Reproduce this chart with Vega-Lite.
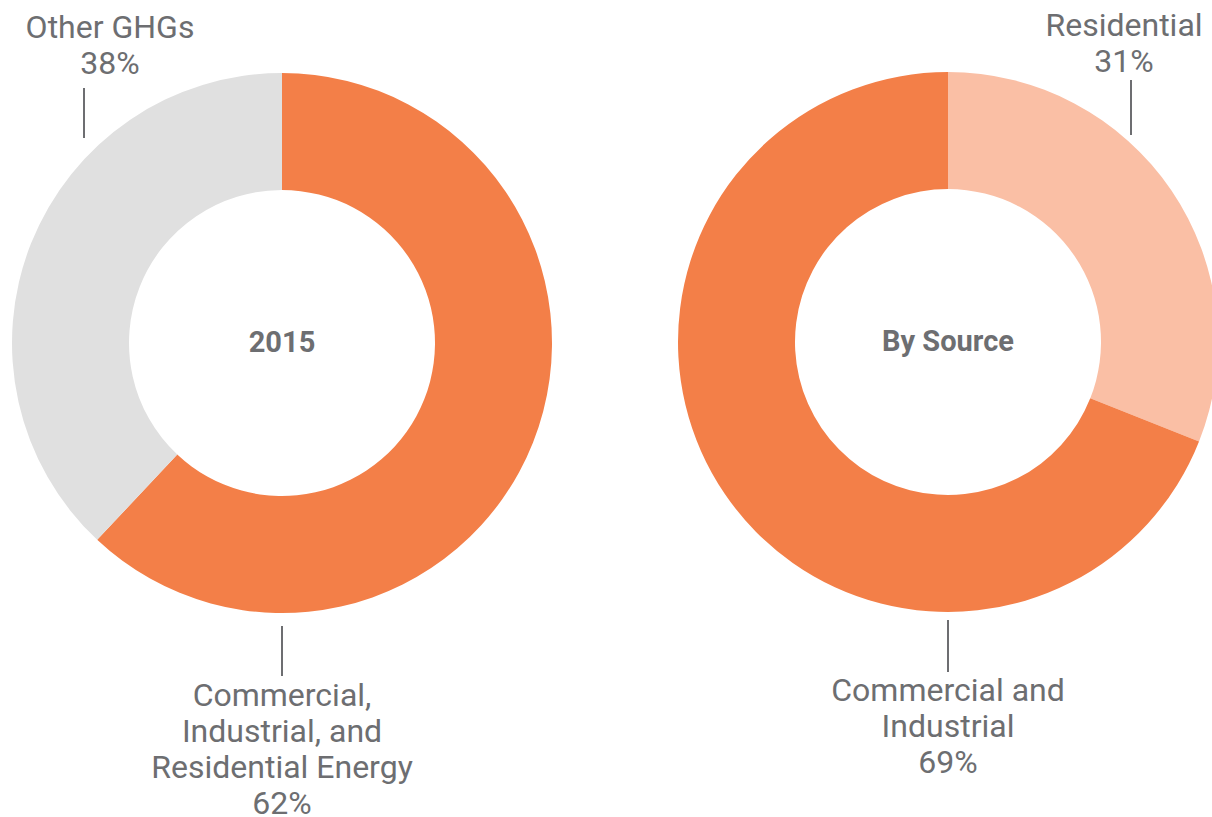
{
  "$schema": "https://vega.github.io/schema/vega-lite/v6.json",
  "padding": 0,
  "background": "white",
  "spacing": 114,
  "config": {"view": {"stroke": null}, "text": {"font": "Roboto"}, "concat": {"spacing": 114}},
  "resolve": {"scale": {"color": "independent"}},
  "datasets": {
    "y2015": [
      {"category": "Commercial, Industrial, and Residential Energy", "share": 62, "rank": 1, "label": "Commercial,\nIndustrial, and\nResidential Energy\n62%"},
      {"category": "Other GHGs", "share": 38, "rank": 2, "label": "Other GHGs\n38%"}
    ],
    "bySource": [
      {"category": "Residential", "share": 31, "rank": 1, "label": "Residential\n31%"},
      {"category": "Commercial and Industrial", "share": 69, "rank": 2, "label": "Commercial and\nIndustrial\n69%"}
    ]
  },
  "hconcat": [
    {
      "width": 564,
      "height": 686,
      "data": {"name": "y2015"},
      "layer": [
        {
          "mark": {"type": "arc", "outerRadius": 270, "innerRadius": 153},
          "encoding": {
            "theta": {"field": "share", "type": "quantitative", "stack": true},
            "order": {"field": "rank", "type": "quantitative"},
            "color": {"field": "category", "type": "nominal", "legend": null,
              "scale": {"domain": ["Commercial, Industrial, and Residential Energy", "Other GHGs"], "range": ["#F37F48", "#E0E0E0"]}}
          }
        },
        {
          "transform": [{"filter": "datum.rank == 1"}],
          "mark": {"type": "text", "fontWeight": "bold", "fontSize": 29, "color": "#6d6e71", "align": "center", "baseline": "middle"},
          "encoding": {"text": {"value": "2015"}}
        },
        {
          "transform": [{"filter": "datum.rank == 2"}],
          "mark": {"type": "text", "fontSize": 32, "color": "#6d6e71", "align": "center", "baseline": "top", "lineBreak": "\n", "lineHeight": 36},
          "encoding": {"text": {"field": "label", "type": "nominal"}, "x": {"value": 110}, "y": {"value": 13}}
        },
        {
          "transform": [{"filter": "datum.rank == 2"}],
          "mark": {"type": "rule", "color": "#6d6e71", "strokeWidth": 2},
          "encoding": {"x": {"value": 84}, "y": {"value": 88}, "y2": {"value": 138}}
        },
        {
          "transform": [{"filter": "datum.rank == 1"}],
          "mark": {"type": "text", "fontSize": 32, "color": "#6d6e71", "align": "center", "baseline": "top", "lineBreak": "\n", "lineHeight": 36},
          "encoding": {"text": {"field": "label", "type": "nominal"}, "x": {"value": 282}, "y": {"value": 681}}
        },
        {
          "transform": [{"filter": "datum.rank == 1"}],
          "mark": {"type": "rule", "color": "#6d6e71", "strokeWidth": 2},
          "encoding": {"x": {"value": 282}, "y": {"value": 626}, "y2": {"value": 676}}
        }
      ]
    },
    {
      "width": 540,
      "height": 684,
      "data": {"name": "bySource"},
      "layer": [
        {
          "mark": {"type": "arc", "outerRadius": 270, "innerRadius": 153},
          "encoding": {
            "theta": {"field": "share", "type": "quantitative", "stack": true},
            "order": {"field": "rank", "type": "quantitative"},
            "color": {"field": "category", "type": "nominal", "legend": null,
              "scale": {"domain": ["Residential", "Commercial and Industrial"], "range": ["#FABFA5", "#F37F48"]}}
          }
        },
        {
          "transform": [{"filter": "datum.rank == 1"}],
          "mark": {"type": "text", "fontWeight": "bold", "fontSize": 29, "color": "#6d6e71", "align": "center", "baseline": "middle"},
          "encoding": {"text": {"value": "By Source"}}
        },
        {
          "transform": [{"filter": "datum.rank == 1"}],
          "mark": {"type": "text", "fontSize": 32, "color": "#6d6e71", "align": "center", "baseline": "top", "lineBreak": "\n", "lineHeight": 36},
          "encoding": {"text": {"field": "label", "type": "nominal"}, "x": {"value": 446}, "y": {"value": 11}}
        },
        {
          "transform": [{"filter": "datum.rank == 1"}],
          "mark": {"type": "rule", "color": "#6d6e71", "strokeWidth": 2},
          "encoding": {"x": {"value": 453}, "y": {"value": 80}, "y2": {"value": 135}}
        },
        {
          "transform": [{"filter": "datum.rank == 2"}],
          "mark": {"type": "text", "fontSize": 32, "color": "#6d6e71", "align": "center", "baseline": "top", "lineBreak": "\n", "lineHeight": 36},
          "encoding": {"text": {"field": "label", "type": "nominal"}, "x": {"value": 270}, "y": {"value": 676}}
        },
        {
          "transform": [{"filter": "datum.rank == 2"}],
          "mark": {"type": "rule", "color": "#6d6e71", "strokeWidth": 2},
          "encoding": {"x": {"value": 270}, "y": {"value": 620}, "y2": {"value": 672}}
        }
      ]
    }
  ]
}
